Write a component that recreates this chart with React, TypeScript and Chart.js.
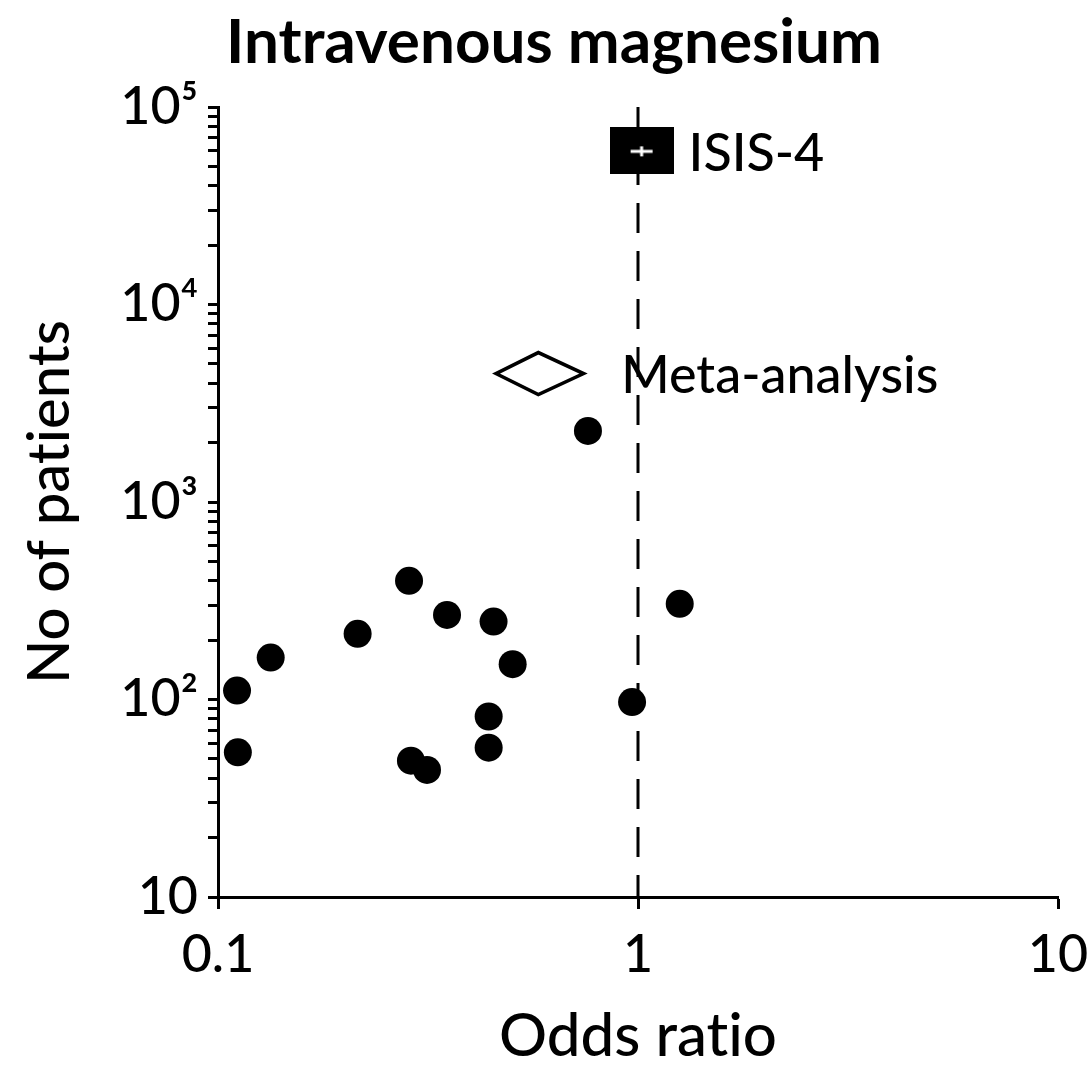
import { useEffect, useRef } from "react";
import { Chart, registerables } from "chart.js";

Chart.register(...registerables);

// ---- data ----
const trialOddsRatio = [0.111, 0.1115, 0.1335, 0.215, 0.285, 0.351, 0.453, 0.503, 0.441, 0.441, 0.288, 0.3145, 0.968, 1.257, 0.76];
const trialPatients = [111, 54, 163, 215, 399, 268, 248, 151, 82, 57, 49, 44, 97, 305, 2290];

const isisOddsRatio = [1.02];
const isisPatients = [60000];
const isisLabel = "ISIS-4";

const metaOddsRatio = [0.579];
const metaLower = [0.459];
const metaUpper = [0.742];
const metaPatients = [4470];
const metaLabel = "Meta-analysis";

const nullLineX = [1, 1];
const nullLineY = [100000, 10];

const xTickValues = [0.1, 1, 10];
const xTickLabels = ["0.1", "1", "10"];
const yTickValues = [10, 100, 1000, 10000, 100000];
const yTickLabels = ["10", "10²", "10³", "10⁴", "10⁵"];
const yMinorMultipliers = [1, 2, 3, 4, 5, 6, 7, 8, 9];

const chartTitle = "Intravenous magnesium";
const xTitle = "Odds ratio";
const yTitle = "No of patients";

const FONT = "Lato, 'Open Sans', sans-serif";

function makeIsisMarker(): HTMLCanvasElement {
  const c = document.createElement("canvas");
  c.width = 64;
  c.height = 47;
  const g = c.getContext("2d")!;
  g.fillStyle = "#000";
  g.fillRect(0, 0, 64, 47);
  g.fillStyle = "#fff";
  g.fillRect(32 - 11, 24 - 1.5, 22, 3);
  g.fillRect(32 - 1.5, 24 - 5, 3, 10);
  return c;
}

const noLigaturePlugin = {
  id: "noLigatures",
  beforeDraw(chart: any) {
    const ctx: any = chart.ctx;
    try {
      ctx.textRendering = "optimizeSpeed";
    } catch (e) {
      /* ignore */
    }
  },
};

const annotationPlugin = {
  id: "annotations",
  afterDatasetsDraw(chart: any) {
    const ctx = chart.ctx;
    const xs = chart.scales.x;
    const ys = chart.scales.y;
    ctx.save();
    // meta-analysis diamond
    metaOddsRatio.forEach((est, i) => {
      const l = xs.getPixelForValue(metaLower[i]);
      const r = xs.getPixelForValue(metaUpper[i]);
      const cx = xs.getPixelForValue(est);
      const cy = ys.getPixelForValue(metaPatients[i]);
      ctx.beginPath();
      ctx.moveTo(l, cy);
      ctx.lineTo(cx, cy - 21);
      ctx.lineTo(r, cy);
      ctx.lineTo(cx, cy + 21);
      ctx.closePath();
      ctx.fillStyle = "#fff";
      ctx.fill();
      ctx.lineWidth = 3.5;
      ctx.strokeStyle = "#000";
      ctx.lineJoin = "miter";
      ctx.stroke();
      ctx.fillStyle = "#000";
      ctx.font = `500 52px ${FONT}`;
      ctx.textAlign = "left";
      ctx.textBaseline = "alphabetic";
      ctx.fillText(metaLabel, cx + 83, cy + 19);
    });
    // ISIS label
    isisOddsRatio.forEach((v, i) => {
      const px = xs.getPixelForValue(v);
      const py = ys.getPixelForValue(isisPatients[i]);
      ctx.fillStyle = "#000";
      ctx.font = `500 52px ${FONT}`;
      ctx.textAlign = "left";
      ctx.textBaseline = "alphabetic";
      ctx.fillText(isisLabel, px + 47, py + 20);
    });
    // chart title
    ctx.font = `bold 62px ${FONT}`;
    ctx.textAlign = "center";
    ctx.textBaseline = "alphabetic";
    ctx.fillStyle = "#000";
    ctx.fillText(chartTitle, 554, 63);
    ctx.restore();
  },
};

export default function App() {
  const ref = useRef<HTMLCanvasElement | null>(null);

  useEffect(() => {
    if (!ref.current) return;
    const isisMarker = makeIsisMarker();
    const chart = new Chart(ref.current, {
      type: "scatter",
      data: {
        datasets: [
          {
            label: "null",
            data: nullLineX.map((x, i) => ({ x, y: nullLineY[i] })),
            showLine: true,
            borderColor: "#000",
            borderWidth: 3,
            borderDash: [30, 18],
            pointRadius: 0,
            clip: false as any,
          },
          {
            label: "trials",
            data: trialOddsRatio.map((x, i) => ({ x, y: trialPatients[i] })),
            pointRadius: 14,
            pointBackgroundColor: "#000",
            pointBorderWidth: 0,
            clip: false as any,
          },
          {
            label: isisLabel,
            data: isisOddsRatio.map((x, i) => ({ x, y: isisPatients[i] })),
            pointStyle: isisMarker as any,
            pointRadius: 30,
            clip: false as any,
          },
        ],
      },
      options: {
        animation: false,
        responsive: false,
        devicePixelRatio: 1,
        events: [],
        layout: { padding: { top: 107, right: 27, left: 0, bottom: 0 } },
        plugins: {
          legend: { display: false },
          tooltip: { enabled: false },
          title: { display: false },
        },
        scales: {
          x: {
            type: "logarithmic",
            min: 0.1,
            max: 10,
            afterBuildTicks: (s: any) => {
              s.ticks = xTickValues.map((v) => ({ value: v }));
            },
            afterFit: (s: any) => {
              s.height = 170;
              s.paddingRight = 0;
              s.paddingLeft = 0;
            },
            ticks: {
              autoSkip: false,
              maxRotation: 0,
              padding: 15,
              color: "#000",
              font: { family: FONT, size: 52, weight: 500 as any },
              callback: (v: any) => {
                const i = xTickValues.indexOf(Number(v));
                return i >= 0 ? xTickLabels[i] : "";
              },
            },
            grid: {
              drawOnChartArea: false,
              drawTicks: true,
              tickLength: 12,
              tickWidth: 3,
              tickColor: "#000",
            },
            border: { display: true, color: "#000", width: 3 },
            title: {
              display: true,
              text: xTitle,
              color: "#000",
              font: { family: FONT, size: 60, lineHeight: 1, weight: 500 as any },
              padding: { top: 0, bottom: 0 },
            },
          },
          y: {
            type: "logarithmic",
            min: 10,
            max: 100000,
            afterBuildTicks: (s: any) => {
              const t: any[] = [];
              yTickValues.forEach((d, k) => {
                if (k === yTickValues.length - 1) {
                  t.push({ value: d });
                } else {
                  yMinorMultipliers.forEach((m) => t.push({ value: d * m }));
                }
              });
              s.ticks = t;
            },
            afterFit: (s: any) => {
              s.width = 218;
              s.paddingTop = 0;
              s.paddingBottom = 0;
            },
            ticks: {
              autoSkip: false,
              padding: 10,
              color: "#000",
              font: { family: FONT, size: 52, weight: 500 as any },
              callback: (v: any) => {
                const i = yTickValues.indexOf(Number(v));
                return i >= 0 ? yTickLabels[i] : "";
              },
            },
            grid: {
              drawOnChartArea: false,
              drawTicks: true,
              tickLength: 10,
              tickWidth: 3,
              tickColor: "#000",
            },
            border: { display: true, color: "#000", width: 3 },
            title: {
              display: true,
              text: yTitle,
              color: "#000",
              font: { family: FONT, size: 58, lineHeight: 1, weight: 500 as any },
              padding: { top: 21, bottom: 0 },
            },
          },
        },
      },
      plugins: [noLigaturePlugin, annotationPlugin],
    });
    return () => chart.destroy();
  }, []);

  return (
    <canvas
      ref={ref}
      width={1089}
      height={1067}
      style={{ position: "fixed", left: 0, top: 0, width: "1089px", height: "1067px" }}
    />
  );
}
